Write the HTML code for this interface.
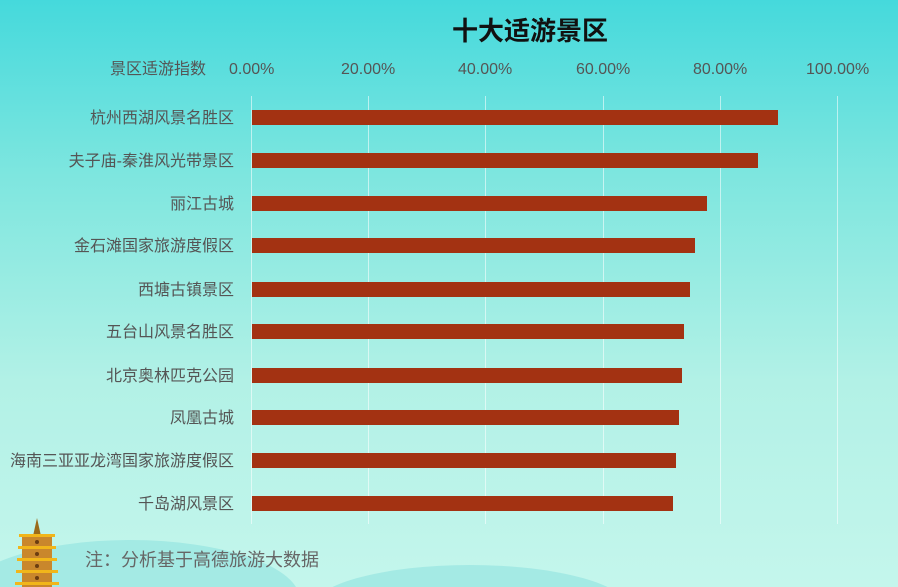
<!DOCTYPE html>
<html><head><meta charset="utf-8"><style>
html,body{margin:0;width:898px;height:587px;overflow:hidden;font-family:"Liberation Sans","Noto Sans CJK SC",sans-serif;}
#c{position:relative;width:898px;height:587px;overflow:hidden;background:linear-gradient(180deg,#45d9dc 0%,#7ee6df 30%,#b2f1e6 65%,#c4f6ec 100%);}
.t{position:absolute;color:#555;font-size:16px;line-height:18px;white-space:nowrap;}
.g{position:absolute;top:96px;height:428px;width:1px;background:rgba(255,255,255,0.55);}
.b{position:absolute;left:252px;height:15px;background:#a33212;}
.l{position:absolute;right:664px;font-size:16px;line-height:18px;color:#555;white-space:nowrap;}
</style></head><body><div id="c">
<svg style="position:absolute;left:0;top:0" width="898" height="587">
<ellipse cx="130" cy="600" rx="170" ry="60" fill="#8fe3e0" opacity="0.6"/>
<ellipse cx="470" cy="610" rx="160" ry="45" fill="#8fe3e0" opacity="0.6"/>
<polygon points="37,518 33,536 41,536" fill="#9a6a1a"/>
<rect x="22" y="536" width="30" height="51" fill="#c9872c"/>
<rect x="19" y="534" width="36" height="3" fill="#f1b61a"/>
<rect x="18" y="546" width="38" height="3" fill="#f1b61a"/>
<rect x="17" y="558" width="40" height="3" fill="#f1b61a"/>
<rect x="16" y="570" width="42" height="3" fill="#f1b61a"/>
<rect x="15" y="582" width="44" height="3" fill="#f1b61a"/>
<circle cx="37" cy="542" r="2" fill="#6b3d10"/><circle cx="37" cy="554" r="2" fill="#6b3d10"/><circle cx="37" cy="566" r="2" fill="#6b3d10"/><circle cx="37" cy="578" r="2" fill="#6b3d10"/>
</svg>
<div class="t" style="left:452px;top:16px;font-size:26px;line-height:30px;font-weight:bold;color:#111">十大适游景区</div>
<div class="t" style="left:110px;top:61px">景区适游指数</div>
<div class="t" style="left:229px;top:61px">0.00%</div>
<div class="t" style="left:341px;top:61px">20.00%</div>
<div class="t" style="left:458px;top:61px">40.00%</div>
<div class="t" style="left:576px;top:61px">60.00%</div>
<div class="t" style="left:693px;top:61px">80.00%</div>
<div class="t" style="left:806px;top:61px">100.00%</div>
<div class="g" style="left:251px"></div><div class="g" style="left:368px"></div><div class="g" style="left:485px"></div><div class="g" style="left:603px"></div><div class="g" style="left:720px"></div><div class="g" style="left:837px"></div>
<div class="b" style="top:110px;width:526px"></div>
<div class="b" style="top:153px;width:506px"></div>
<div class="b" style="top:196px;width:455px"></div>
<div class="b" style="top:238px;width:443px"></div>
<div class="b" style="top:282px;width:438px"></div>
<div class="b" style="top:324px;width:432px"></div>
<div class="b" style="top:368px;width:430px"></div>
<div class="b" style="top:410px;width:427px"></div>
<div class="b" style="top:453px;width:424px"></div>
<div class="b" style="top:496px;width:421px"></div>
<div class="l" style="top:110px">杭州西湖风景名胜区</div>
<div class="l" style="top:153px">夫子庙-秦淮风光带景区</div>
<div class="l" style="top:196px">丽江古城</div>
<div class="l" style="top:238px">金石滩国家旅游度假区</div>
<div class="l" style="top:282px">西塘古镇景区</div>
<div class="l" style="top:324px">五台山风景名胜区</div>
<div class="l" style="top:368px">北京奥林匹克公园</div>
<div class="l" style="top:410px">凤凰古城</div>
<div class="l" style="top:453px">海南三亚亚龙湾国家旅游度假区</div>
<div class="l" style="top:496px">千岛湖风景区</div>
<div class="t" style="left:85px;top:549px;font-size:18px;line-height:22px;color:#666">注：分析基于高德旅游大数据</div>
</div></body></html>
